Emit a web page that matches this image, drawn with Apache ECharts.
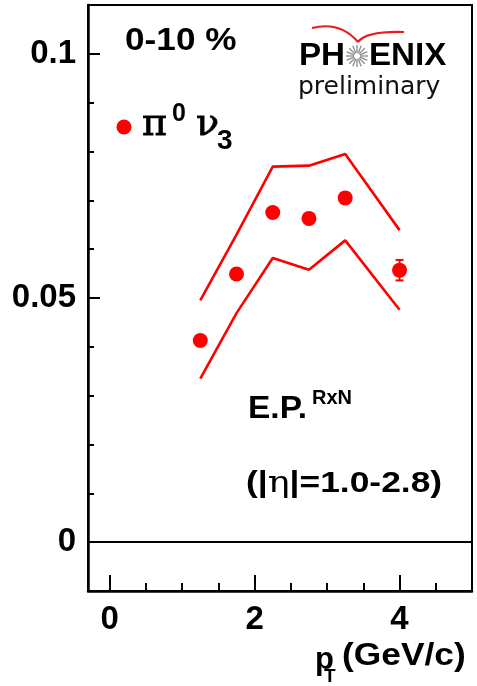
<!DOCTYPE html>
<html>
<head>
<meta charset="utf-8">
<title>pi0 v3, 0-10 %</title>
<script src="https://cdn.jsdelivr.net/npm/echarts@6/dist/echarts.min.js"></script>
<style>
  html, body { margin: 0; padding: 0; background: #fff; }
  #chart { width: 477px; height: 686px; }
</style>
</head>
<body>
<div id="chart"></div>
<script>
// pT bin centres (GeV/c) and measured pi0 v3 with statistical errors
const ptBins  = [1.25, 1.75, 2.25, 2.75, 3.25, 4.0];
const v3      = [0.0413, 0.0549, 0.0675, 0.0663, 0.0705, 0.0557];
const v3Err   = [0.0010, 0.0010, 0.0010, 0.0010, 0.0010, 0.0021];
// systematic band edges
const sysUpper = [0.0495, 0.0630, 0.0769, 0.0771, 0.0795, 0.0639];
const sysLower = [0.0335, 0.0469, 0.0582, 0.0558, 0.0618, 0.0476];

// axis ranges and tick positions
const xRange = [-0.3, 5.0];
const yRange = [-0.01, 0.11];
const xMajorTicks = [0, 2, 4];
const xMinorTicks = [0.5, 1.0, 1.5, 2.5, 3.0, 3.5, 4.5];
const yMajorTicks = [0, 0.05, 0.1];
const yMinorTicks = [0.01, 0.02, 0.03, 0.04, 0.06, 0.07, 0.08, 0.09];
const yTickLabels = ['0', '0.05', '0.1'];
const xTickLabels = ['0', '2', '4'];

const RED = '#ff0000';
const SANS = '"Liberation Sans", Arial, Helvetica, sans-serif';
const SERIF = '"DejaVu Serif", "Liberation Serif", serif';

const chart = echarts.init(document.getElementById('chart'), null, { renderer: 'canvas' });

const zip = (xs, ys) => xs.map((x, i) => [x, ys[i]]);

function xAxisDef(ticks, len, withLabels) {
  return {
    type: 'value', min: xRange[0], max: xRange[1], position: 'bottom',
    axisLine: { show: withLabels, onZero: false, lineStyle: { color: '#000', width: 2.5 } },
    axisTick: { show: true, inside: true, length: len, customValues: ticks,
                lineStyle: { color: '#000', width: 2 } },
    axisLabel: withLabels ? {
      show: true, customValues: ticks, margin: 12,
      formatter: v => { const i = xMajorTicks.indexOf(v); return i >= 0 ? xTickLabels[i] : ''; },
      fontFamily: SANS, fontWeight: 'bold', fontSize: 33, color: '#000'
    } : { show: false },
    splitLine: { show: false }
  };
}

function yAxisDef(ticks, len, withLabels) {
  return {
    type: 'value', min: yRange[0], max: yRange[1], position: 'left',
    axisLine: { show: withLabels, onZero: false, lineStyle: { color: '#000', width: 2.5 } },
    axisTick: { show: true, inside: true, length: len, customValues: ticks,
                lineStyle: { color: '#000', width: 2 } },
    axisLabel: withLabels ? {
      show: true, customValues: ticks, margin: 12,
      formatter: v => {
        const i = yMajorTicks.findIndex(t => Math.abs(t - v) < 1e-9);
        return i >= 0 ? yTickLabels[i] : '';
      },
      fontFamily: SANS, fontWeight: 'bold', fontSize: 33, color: '#000'
    } : { show: false },
    splitLine: { show: false }
  };
}

// PHENIX logo burst: thin grey spokes round a small hub
const burst = [];
const bx = 357, by = 56;
for (let k = 0; k < 16; k++) {
  const a = k * Math.PI / 8;
  burst.push({
    type: 'line', silent: true,
    shape: { x1: bx + 3 * Math.cos(a), y1: by + 3 * Math.sin(a),
             x2: bx + 11 * Math.cos(a), y2: by + 11 * Math.sin(a) },
    style: { stroke: '#8a8a8a', lineWidth: 1.3 }
  });
}

function txt(x, y, text, size, opts = {}) {
  const style = {
    x: 0, y: 0, text: text,
    fontFamily: opts.family || SANS,
    fontWeight: opts.weight || 'bold',
    fontSize: size,
    fill: opts.color || '#000',
    align: opts.align || 'left',
    verticalAlign: 'middle'
  };
  if (opts.rich) style.rich = opts.rich;
  if (opts.stroke) { style.stroke = opts.stroke; style.lineWidth = opts.strokeWidth; }
  return { type: 'text', silent: true, x: x, y: y, scaleX: opts.scaleX || 1, style: style };
}

const option = {
  animation: false,
  backgroundColor: '#fff',
  grid: { left: 88, right: 5, top: 5, bottom: 95, show: true,
          borderColor: '#000', borderWidth: 2, backgroundColor: 'transparent' },
  xAxis: [ xAxisDef(xMajorTicks, 16, true), xAxisDef(xMinorTicks, 8, false) ],
  yAxis: [ yAxisDef(yMajorTicks, 12, true), yAxisDef(yMinorTicks, 6, false) ],
  series: [
    {
      name: 'sys upper', type: 'line', data: zip(ptBins, sysUpper),
      showSymbol: false, silent: true,
      lineStyle: { color: RED, width: 2.6 }, z: 3
    },
    {
      name: 'sys lower', type: 'line', data: zip(ptBins, sysLower),
      showSymbol: false, silent: true,
      lineStyle: { color: RED, width: 2.6 }, z: 3
    },
    {
      name: 'stat err', type: 'custom', silent: true, z: 4,
      data: ptBins.map((x, i) => [x, v3[i], v3Err[i]]),
      renderItem: (params, api) => {
        const x = api.value(0), y = api.value(1), e = api.value(2);
        const lo = api.coord([x, y - e]), hi = api.coord([x, y + e]);
        const w = 4;
        const st = { stroke: RED, lineWidth: 2 };
        return { type: 'group', children: [
          { type: 'line', shape: { x1: lo[0], y1: lo[1], x2: hi[0], y2: hi[1] }, style: st },
          { type: 'line', shape: { x1: lo[0] - w, y1: lo[1], x2: lo[0] + w, y2: lo[1] }, style: st },
          { type: 'line', shape: { x1: hi[0] - w, y1: hi[1], x2: hi[0] + w, y2: hi[1] }, style: st }
        ]};
      }
    },
    {
      name: 'pi0 v3', type: 'scatter', data: zip(ptBins, v3),
      symbol: 'circle', symbolSize: 15, silent: true,
      itemStyle: { color: RED, opacity: 1 }, z: 5,
      markLine: {
        silent: true, symbol: ['none', 'none'], label: { show: false },
        lineStyle: { color: '#000', width: 2, type: 'solid' },
        data: [{ yAxis: 0 }]
      }
    }
  ],
  graphic: { elements: [
    // centrality class
    txt(125, 41, '0-10 %', 32, { scaleX: 1.1 }),
    // legend entry
    { type: 'circle', silent: true, shape: { cx: 124, cy: 127, r: 7.5 }, style: { fill: RED } },
    txt(142, 125, 'π', 38, { family: SERIF, weight: 'normal', stroke: '#000', strokeWidth: 0.8 }),
    txt(172, 114, '0', 25),
    txt(196, 125, 'ν', 38, { family: SERIF, weight: 'normal', stroke: '#000', strokeWidth: 0.8 }),
    txt(217, 141, '3', 28),
    // PHENIX preliminary: red wing over the name
    { type: 'bezierCurve', silent: true,
      shape: { x1: 312, y1: 28, x2: 358, y2: 42, cpx1: 340, cpy1: 21 },
      style: { stroke: '#ee1a1a', lineWidth: 2.2, fill: null } },
    { type: 'bezierCurve', silent: true,
      shape: { x1: 358, y1: 42, x2: 404, y2: 32, cpx1: 366, cpy1: 31 },
      style: { stroke: '#ee1a1a', lineWidth: 2.2, fill: null } },
    txt(345, 56, 'PH', 31, { align: 'right', scaleX: 1.07 }),
    ...burst,
    txt(369, 56, 'ENIX', 31, { scaleX: 1.07 }),
    txt(298, 87, 'preliminary', 25, { family: '"DejaVu Sans", sans-serif', weight: 'normal', color: '#111' }),
    // event plane and rapidity gap
    txt(248, 409, 'E.P.', 31, { scaleX: 1.08 }),
    txt(312, 398, 'RxN', 20),
    txt(246, 484, '{a|(|}{e|η}{a||=1.0-2.8)}', 29, {
      scaleX: 1.22,
      rich: {
        a: { fontFamily: SANS, fontWeight: 'bold', fontSize: 29, fill: '#000' },
        e: { fontFamily: SERIF, fontWeight: 'normal', fontSize: 30, fill: '#000' }
      }
    }),
    // axis title
    txt(315, 660, 'p', 31),
    txt(324, 677, 'T', 19),
    txt(342, 656, '(GeV/c)', 31, { scaleX: 1.14 })
  ]}
};

chart.setOption(option);
</script>
</body>
</html>
